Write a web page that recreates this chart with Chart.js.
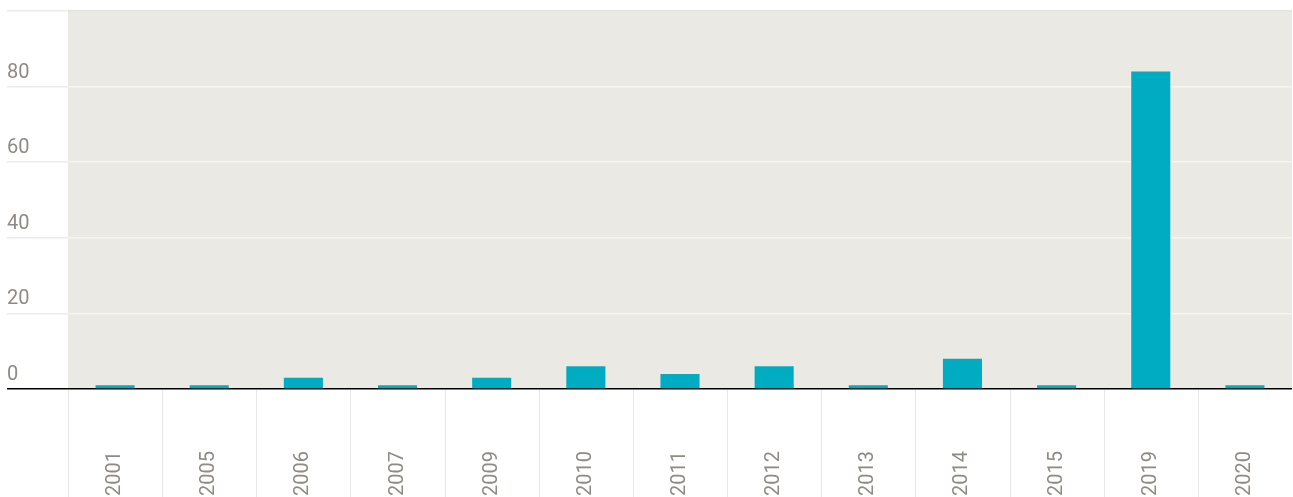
<!DOCTYPE html>
<html>
<head>
<meta charset="utf-8">
<script src="https://cdn.jsdelivr.net/npm/chart.js@4"></script>
<style>
  body { margin: 0; background: #fff; }
</style>
</head>
<body>
<canvas id="myChart" width="1293" height="497"></canvas>
<script>
  let years = ["2001", "2005", "2006", "2007", "2009", "2010", "2011", "2012", "2013", "2014", "2015", "2019", "2020"];
  let counts = [1, 1, 3, 1, 3, 6, 4, 6, 1, 8, 1, 84, 1];
  let yTicks = [0, 20, 40, 60, 80, 100];

  let textGray = "#8f8a85";

  // plot background + column separators below the axis
  let chartBg = {
    id: "chartBg",
    beforeDraw(chart) {
      let ctx = chart.ctx;
      let a = chart.chartArea;
      ctx.save();
      ctx.fillStyle = "#ebe9e4";
      ctx.fillRect(a.left, a.top, a.right - a.left, a.bottom - a.top);
      ctx.restore();
    },
    afterDraw(chart) {
      let ctx = chart.ctx;
      let x = chart.scales.x;
      let step = (x.right - x.left) / years.length;
      ctx.save();
      ctx.strokeStyle = "#e6e6e6";
      ctx.lineWidth = 1;
      for (let i = 0; i < years.length; i++) {
        let px = Math.round(x.getPixelForValue(i) - step / 2) + 0.5;
        ctx.beginPath();
        ctx.moveTo(px, x.top + 1);
        ctx.lineTo(px, x.bottom);
        ctx.stroke();
      }
      ctx.restore();
    }
  };

  new Chart("myChart", {
    type: "bar",
    data: {
      labels: years,
      datasets: [{
        data: counts,
        backgroundColor: "#00acc1",
        barPercentage: 0.415,
        categoryPercentage: 1
      }]
    },
    options: {
      responsive: false,
      animation: false,
      layout: { padding: { left: 7, right: 1, top: 11, bottom: 0 } },
      plugins: {
        legend: { display: false },
        tooltip: { enabled: false }
      },
      scales: {
        x: {
          grid: { display: false, drawTicks: false },
          border: { display: false },
          ticks: {
            color: textGray,
            font: { family: "Roboto", size: 20 },
            minRotation: 90,
            maxRotation: 90,
            padding: 62,
            autoSkip: false
          },
          afterFit(scale) {
            scale.height = 108;
            scale.paddingLeft = 0;
            scale.paddingRight = 0;
          }
        },
        y: {
          min: 0,
          max: 100,
          afterBuildTicks(scale) {
            scale.ticks = yTicks.map(v => ({ value: v }));
          },
          border: { display: false },
          grid: {
            color: ctx => ctx.tick && ctx.tick.value === 0 ? "#000" : (ctx.tick && ctx.tick.value === 100 ? "#e2e2e0" : "#f6f5f2"),
            tickColor: ctx => ctx.tick && ctx.tick.value === 0 ? "#000" : "#ececec",
            lineWidth: 1.5,
            tickLength: 61
          },
          ticks: {
            color: textGray,
            font: { family: "Roboto", size: 20 },
            crossAlign: "far",
            labelOffset: -14,
            padding: 0,
            callback: v => v === 100 ? "" : v
          },
          afterFit(scale) {
            scale.width = 61;
            scale.paddingTop = 0;
            scale.paddingBottom = 0;
          }
        }
      }
    },
    plugins: [chartBg]
  });
</script>
</body>
</html>
